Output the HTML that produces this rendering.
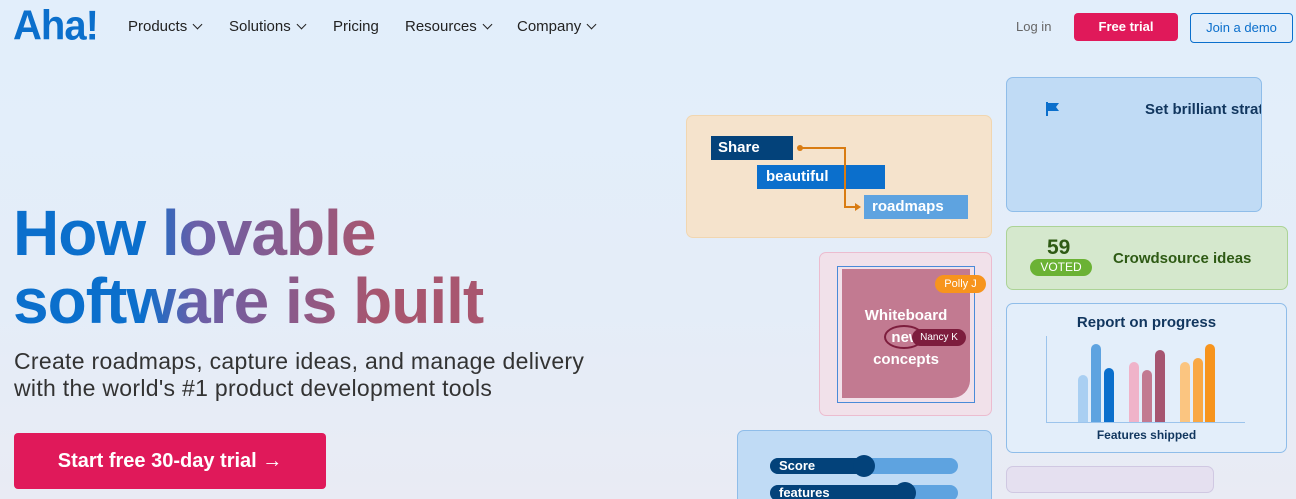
<!DOCTYPE html>
<html><head><meta charset="utf-8"><style>
*{margin:0;padding:0;box-sizing:border-box}
html,body{width:1296px;height:499px;overflow:hidden}
body{position:relative;font-family:"Liberation Sans",sans-serif;background:linear-gradient(180deg,#e2eefb 0%,#e4edf8 60%,#e9ebf4 100%)}
.a{position:absolute}
.nav{font-size:15px;color:#222;top:18px}
.card{position:absolute;border-radius:7px;border:1.5px solid}
.chev{display:inline-block;width:7px;height:7px;border-right:1.8px solid #222;border-bottom:1.8px solid #222;transform:rotate(45deg);margin-left:7px;position:relative;top:-3px}
.b{font-weight:bold}
.bar{position:absolute;width:10px;border-radius:5px 5px 0 0}
</style></head><body>
<div class="a b" style="left:13px;top:4px;font-size:40px;color:#0b6fcc;letter-spacing:-1px;transform:scaleY(1.05)">Aha!</div>
<div class="a nav" style="left:128px">Products<span class="chev"></span></div>
<div class="a nav" style="left:229px">Solutions<span class="chev"></span></div>
<div class="a nav" style="left:333px">Pricing</div>
<div class="a nav" style="left:405px">Resources<span class="chev"></span></div>
<div class="a nav" style="left:517px">Company<span class="chev"></span></div>
<div class="a" style="left:1016px;top:19px;font-size:13px;color:#666">Log in</div>
<div class="a b" style="left:1074px;top:13px;width:104px;height:28px;background:#e0195a;color:#fff;border-radius:4px;font-size:13px;text-align:center;line-height:28px">Free trial</div>
<div class="a" style="left:1190px;top:13px;width:103px;height:30px;border:1.5px solid #0b6fcc;color:#0b6fcc;border-radius:4px;font-size:13px;text-align:center;line-height:27px">Join a demo</div>

<div class="a b" style="left:13px;top:199px;font-size:64px;line-height:68px;letter-spacing:-1px;background:linear-gradient(90deg,#0b6fcc 0%,#0b6fcc 25%,#6a5fa8 35%,#a8566f 70%,#a8566f 100%);-webkit-background-clip:text;background-clip:text;color:transparent;width:520px">How lovable<br>software is built</div>
<div class="a" style="left:14px;top:348px;font-size:23px;line-height:27px;color:#333;letter-spacing:0.3px;white-space:nowrap">Create roadmaps, capture ideas, and manage delivery<br>with the world's #1 product development tools</div>
<div class="a b" style="left:14px;top:433px;width:312px;height:56px;background:#e0195a;color:#fff;border-radius:4px;font-size:20px;text-align:center;line-height:56px">Start free 30-day trial →</div>

<div class="card" style="left:686px;top:115px;width:306px;height:123px;background:#f5e3cc;border-color:#f1d6b0"></div>
<div class="a b" style="left:711px;top:136px;width:82px;height:24px;background:#03427a;color:#fff;font-size:15px;padding-left:7px;line-height:24px">Share</div>
<div class="a b" style="left:757px;top:165px;width:128px;height:24px;background:#0b6fcc;color:#fff;font-size:15px;padding-left:9px;line-height:24px">beautiful</div>
<div class="a b" style="left:864px;top:195px;width:104px;height:24px;background:#5ea3e0;color:#fff;font-size:15px;padding-left:8px;line-height:24px">roadmaps</div>
<svg class="a" style="left:0;top:0" width="1296" height="499"><circle cx="800" cy="148" r="3" fill="#d97c12"/><polyline points="800,148 845,148 845,207 857,207" fill="none" stroke="#d97c12" stroke-width="2"/><polygon points="861,207 855,203 855,211" fill="#d97c12"/></svg>

<div class="card" style="left:1006px;top:77px;width:256px;height:135px;background:#c0dbf5;border-color:#8fbde9;overflow:hidden">
<div class="a b" style="left:138px;top:23px;font-size:15px;color:#11365e;white-space:nowrap">Set brilliant strategy</div>
<svg class="a" style="left:38px;top:23px" width="16" height="16"><path d="M2 1v14" stroke="#0b6fcc" stroke-width="2"/><path d="M3 2h11l-3 4 3 4H3z" fill="#0b6fcc"/></svg>
</div>

<div class="card" style="left:1006px;top:226px;width:282px;height:64px;background:#d5e8cd;border-color:#acd396"></div>
<div class="a b" style="left:1047px;top:236px;font-size:21px;color:#2e5a14">59</div>
<div class="a" style="left:1030px;top:259px;width:62px;height:17px;background:#6bb234;color:#fff;border-radius:9px;font-size:12px;text-align:center;line-height:17px">VOTED</div>
<div class="a b" style="left:1113px;top:250px;font-size:15px;color:#2e5a14">Crowdsource ideas</div>

<div class="card" style="left:819px;top:252px;width:173px;height:164px;background:#f1e1ea;border-color:#ecbccf"></div>
<div class="a" style="left:842px;top:269px;width:128px;height:129px;background:#c27a91;border-radius:0 0 18px 0"></div>
<div class="a" style="left:837px;top:266px;width:138px;height:137px;border:1px solid #4a8ad8"></div>
<div class="a b" style="left:842px;top:305px;width:128px;text-align:center;color:#fff;font-size:15px;line-height:22px">Whiteboard<br>new<br>concepts</div>
<div class="a" style="left:884px;top:325px;width:40px;height:24px;border:2px solid #7d1d3d;border-radius:50%"></div>
<div class="a" style="left:912px;top:329px;width:54px;height:17px;background:#7d1d3d;color:#fff;border-radius:9px;font-size:10px;text-align:center;line-height:17px">Nancy K</div>
<div class="a" style="left:935px;top:275px;width:51px;height:18px;background:#f7941d;color:#fff;border-radius:9px;font-size:11px;text-align:center;line-height:18px">Polly J</div>

<div class="card" style="left:1006px;top:303px;width:281px;height:150px;background:#e3eefa;border-color:#8fbde9"></div>
<div class="a b" style="left:1006px;top:314px;width:281px;text-align:center;font-size:15px;color:#11365e">Report on progress</div>
<div class="a" style="left:1046px;top:336px;width:1px;height:87px;background:#9cc4ec"></div>
<div class="a" style="left:1046px;top:422px;width:199px;height:1px;background:#9cc4ec"></div>
<div class="a b" style="left:1006px;top:428px;width:281px;text-align:center;font-size:12px;color:#11365e">Features shipped</div>
<div class="bar" style="left:1078px;top:375px;height:47px;background:#a9cff2"></div>
<div class="bar" style="left:1091px;top:344px;height:78px;background:#5ea3e0"></div>
<div class="bar" style="left:1104px;top:368px;height:54px;background:#0b6fcc"></div>
<div class="bar" style="left:1129px;top:362px;height:60px;background:#f0b3c9"></div>
<div class="bar" style="left:1142px;top:370px;height:52px;background:#c27a91"></div>
<div class="bar" style="left:1155px;top:350px;height:72px;background:#a65570"></div>
<div class="bar" style="left:1180px;top:362px;height:60px;background:#fbc580"></div>
<div class="bar" style="left:1193px;top:358px;height:64px;background:#f9a845"></div>
<div class="bar" style="left:1205px;top:344px;height:78px;background:#f7941d"></div>

<div class="card" style="left:737px;top:430px;width:255px;height:80px;background:#c0dbf5;border-color:#8fbde9"></div>
<div class="a" style="left:770px;top:458px;width:188px;height:16px;background:#5ea3e0;border-radius:8px"></div>
<div class="a b" style="left:770px;top:458px;width:100px;height:16px;background:#03427a;border-radius:8px;color:#fff;font-size:13px;padding-left:9px;line-height:16px">Score</div>
<div class="a" style="left:853px;top:455px;width:22px;height:22px;background:#03427a;border-radius:50%"></div>
<div class="a" style="left:770px;top:485px;width:188px;height:16px;background:#5ea3e0;border-radius:8px"></div>
<div class="a b" style="left:770px;top:485px;width:140px;height:16px;background:#03427a;border-radius:8px;color:#fff;font-size:13px;padding-left:9px;line-height:16px">features</div>
<div class="a" style="left:894px;top:482px;width:22px;height:22px;background:#03427a;border-radius:50%"></div>

<div class="card" style="left:1006px;top:466px;width:208px;height:27px;background:#e5e0f0;border-color:#d0c8e2"></div>
</body></html>
